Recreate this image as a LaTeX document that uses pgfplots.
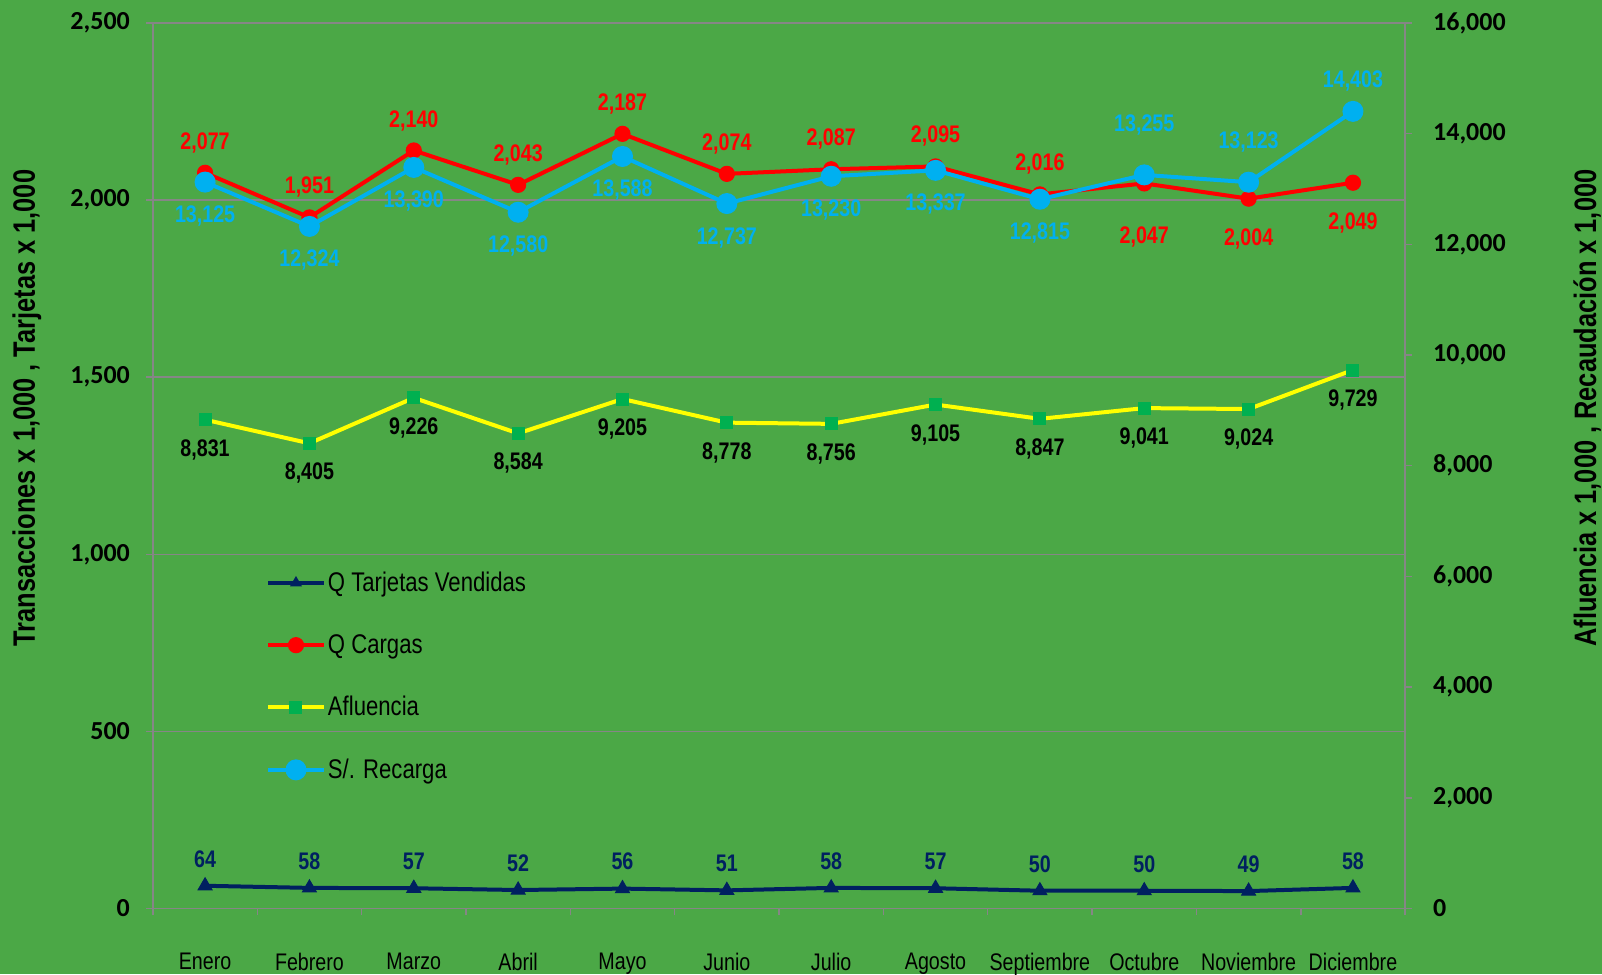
\documentclass[border=0pt]{standalone}
\usepackage{fontspec}
\setmainfont{Liberation Sans}
\newfontfamily\narrow[FakeStretch=0.82]{Liberation Sans}
\newfontfamily\calib{Carlito}
\usepackage{pgfplots}
\usepackage{pgfplotstable}
\pgfplotsset{compat=1.18}
\usetikzlibrary{backgrounds}

\definecolor{fondo}{RGB}{75,168,70}
\definecolor{rejilla}{RGB}{134,134,134}
\definecolor{marino}{RGB}{0,32,96}
\definecolor{rojo}{RGB}{255,0,0}
\definecolor{celeste}{RGB}{0,176,240}
\definecolor{amarillo}{RGB}{255,255,0}
\definecolor{verde}{RGB}{0,176,80}

% oc / orc: desplazamiento vertical (pt) de la etiqueta de Q Cargas y S/. Recarga
\pgfplotstableread{
x  tarj carg oc  aflu rec   orc
0  64   2077 15  8831 13125 -17
1  58   1951 15  8405 12324 -17
2  57   2140 15  9226 13390 -17
3  52   2043 15  8584 12580 -17
4  56   2187 15  9205 13588 -17
5  51   2074 15  8778 12737 -17
6  58   2087 15  8756 13230 -17
7  57   2095 15  9105 13337 -17
8  50   2016 15  8847 12815 -17
9  50   2047 -27 9041 13255 25
10 49   2004 -20 9024 13123 20
11 58   2049 -20 9729 14403 15
}\datos

\pgfkeys{/pgf/number format/fixed, /pgf/number format/precision=0,
  /pgf/number format/1000 sep={,}, /pgf/number format/assume math mode=true}

\tikzset{
  etiq/.style={font=\narrow\bfseries\fontsize{12}{12}\selectfont, text=#1, anchor=center, inner sep=0pt},
  titulo/.style={font=\narrow\bfseries\fontsize{15.5}{15.5}\selectfont, text=black},
}

\pgfplotsset{
  base/.style={
    scale only axis, width=626.5pt, height=443pt,
    xmin=-0.5, xmax=11.5, clip=false,
    axis line style={rejilla, line width=0.75pt},
    tick style={rejilla, line width=0.75pt},
    tick align=outside, major tick length=3.5pt,
    scaled y ticks=false,
    yticklabel style={font=\calib\bfseries\fontsize{13}{13}\selectfont, text=black},
  },
}

\begin{document}
\begin{tikzpicture}
\begin{axis}[base, name=izq,
  ymin=0, ymax=2500, ytick={0,500,...,2500}, ymajorgrids,
  grid style={rejilla, line width=0.75pt},
  ytick pos=left, xtick pos=bottom,
  xtick={-0.5,0.5,1.5,2.5,3.5,4.5,5.5,6.5,7.5,8.5,9.5,10.5,11.5}, xticklabels={},
  extra x ticks={0,1,2,3,4,5,6,7,8,9,10,11},
  extra x tick labels={Enero,Febrero,Marzo,Abril,Mayo,Junio,Julio,Agosto,Septiembre,Octubre,Noviembre,Diciembre},
  extra x tick style={major tick length=0pt,
    xticklabel style={font=\narrow\fontsize{12}{12}\selectfont, text=black, yshift=-19pt}},
  yticklabel style={xshift=-4.5pt},
  every axis y label/.style={at={([xshift=-63pt]rel axis cs:0,0.565)}, rotate=90, anchor=center, titulo},
  ylabel={Transacciones x 1,000 , Tarjetas x 1,000},
]
\addplot[marino, line width=2pt, mark=triangle*, mark size=4pt, mark options={line width=0.5pt, solid},
  nodes near coords, nodes near coords style={etiq=marino, yshift=13.5pt}]
  table[x=x, y=tarj]{\datos};
\addplot[rojo, line width=2pt, mark=*, mark size=3.8pt, mark options={line width=0.5pt, solid},
  visualization depends on={\thisrow{oc}\as\desp},
  nodes near coords, nodes near coords style={etiq=rojo, yshift={\desp*1pt}}]
  table[x=x, y=carg]{\datos};
\end{axis}

\begin{axis}[base,
  axis x line=none, axis y line*=right,
  ymin=0, ymax=16000, ytick={0,2000,...,16000},
  yticklabel style={xshift=7pt},
  every axis y label/.style={at={([xshift=91pt]rel axis cs:1,0.565)}, rotate=90, anchor=center, titulo},
  ylabel={Afluencia x 1,000 , Recaudación x 1,000},
  legend style={at={(rel axis cs:0.09,0.383)}, anchor=north west, draw=none, fill=none,
    font=\narrow\fontsize{13.5}{13.5}\selectfont, row sep=18pt, inner sep=0pt,
    nodes={inner sep=1pt, text=black}},
  legend cell align=left,
  legend image code/.code={\draw[#1, mark repeat=2, mark phase=2] plot coordinates {(0pt,0pt) (14pt,0pt) (28pt,0pt)};},
]
\addlegendimage{marino, line width=2pt, mark=triangle*, mark size=3pt, mark options={line width=0.5pt, solid}}
\addlegendentry{Q Tarjetas Vendidas}
\addlegendimage{rojo, line width=2pt, mark=*, mark size=3.8pt, mark options={line width=0.5pt, solid}}
\addlegendentry{Q Cargas}
\addplot[amarillo, line width=2pt, mark=square*, mark size=3pt, mark options={line width=0.5pt, solid, draw=verde, fill=verde},
  nodes near coords, nodes near coords style={etiq=black, yshift=-15pt}]
  table[x=x, y=aflu]{\datos};
\addlegendentry{Afluencia}
\addplot[celeste, line width=2pt, mark=*, mark size=5pt, mark options={line width=0.5pt, solid},
  visualization depends on={\thisrow{orc}\as\desp},
  nodes near coords, nodes near coords style={etiq=celeste, yshift={\desp*1pt}}]
  table[x=x, y=rec]{\datos};
\addlegendentry{S/. Recarga}
\end{axis}

\begin{scope}[on background layer]
\fill[fondo] ([xshift=-76.5pt,yshift=-33pt]izq.south west) rectangle ([xshift=98.5pt,yshift=11.5pt]izq.north east);
\end{scope}
\pgfresetboundingbox
\path[use as bounding box] ([xshift=-76.5pt,yshift=-33pt]izq.south west) rectangle ([xshift=98.5pt,yshift=11.5pt]izq.north east);
\end{tikzpicture}
\end{document}
